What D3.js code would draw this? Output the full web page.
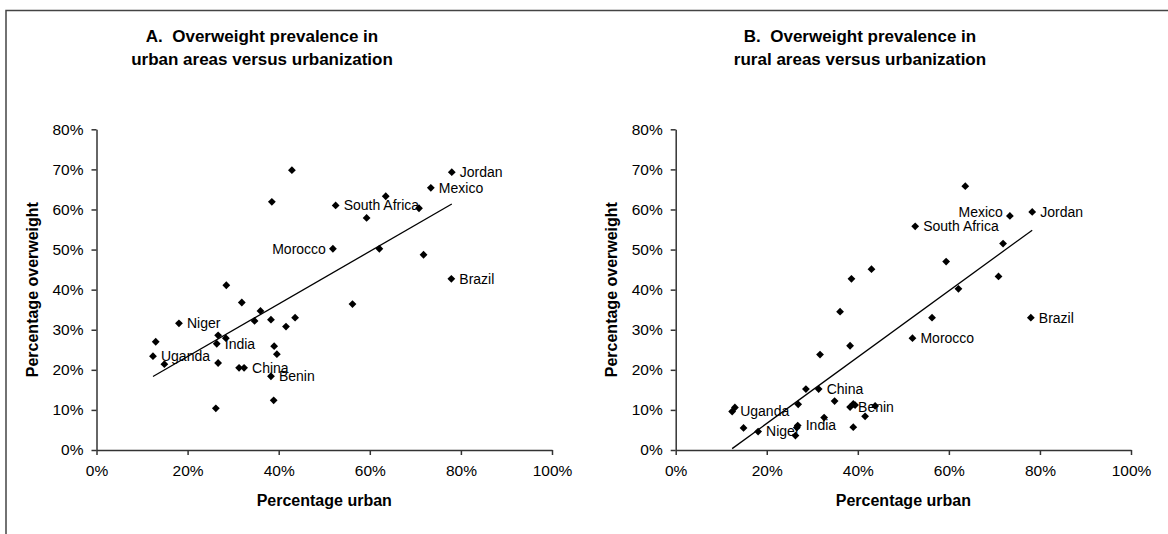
<!DOCTYPE html>
<html>
<head>
<meta charset="utf-8">
<script src="https://cdn.jsdelivr.net/npm/d3@7"></script>
<style>
  body { margin: 0; background: #fff; }
  svg text { font-family: "Liberation Sans", Arial, sans-serif; fill: #000; }
  .axis path, .axis line { stroke: #333; stroke-width: 1.5; }
  .title { white-space: pre; }
</style>
</head>
<body>
<div id="chart"></div>
<script>
// percentage urban / overweight in urban areas (panel A)
var urbanA = [42.9, 38.5, 52.5, 63.5, 70.8, 59.3, 73.4, 78.0, 51.9, 62.1, 71.8, 77.9,
              56.2, 31.9, 36.0, 34.7, 38.3, 43.6, 41.6, 39.0, 39.6, 32.4, 31.3, 38.3,
              38.9, 28.5, 18.1, 13.0, 26.7, 28.4, 26.4, 12.4, 14.9, 26.7, 26.2];
var overweightA = [69.8, 61.9, 61.0, 63.3, 60.3, 57.9, 65.4, 69.3, 50.2, 50.2, 48.7, 42.7,
                   36.4, 36.8, 34.7, 32.2, 32.5, 33.0, 30.8, 25.9, 23.9, 20.5, 20.5, 18.4,
                   12.4, 41.1, 31.6, 27.0, 28.6, 27.9, 26.5, 23.4, 21.4, 21.7, 10.4];
var namesA = ["", "", "South Africa", "", "", "", "Mexico", "Jordan", "Morocco", "", "", "Brazil",
              "", "", "", "", "", "", "", "", "", "China", "", "Benin",
              "", "", "Niger", "", "", "", "India", "Uganda", "", "", ""];
// labels drawn on the left of their point, with a small vertical nudge
var leftLabelsA = { "Morocco": 0 };

// percentage urban / overweight in rural areas (panel B)
var urbanB = [63.6, 73.4, 78.3, 52.6, 71.9, 59.4, 43.0, 38.6, 70.9, 62.1, 56.3, 78.0,
              52.0, 38.3, 36.1, 39.0, 38.3, 43.8, 41.6, 39.0, 31.7, 28.6, 31.4, 34.9,
              26.9, 39.4, 32.6, 26.8, 26.6, 26.3, 18.1, 14.9, 12.4, 13.0];
var overweightB = [65.8, 58.4, 59.4, 55.8, 51.5, 47.0, 45.1, 42.7, 43.3, 40.2, 33.0, 33.0,
                   27.9, 26.0, 34.5, 11.5, 10.7, 11.0, 8.4, 5.7, 23.8, 15.2, 15.2, 12.2,
                   11.4, 11.2, 8.1, 6.1, 5.6, 3.6, 4.6, 5.5, 9.6, 10.6];
var namesB = ["", "Mexico", "Jordan", "South Africa", "", "", "", "", "", "", "", "Brazil",
              "Morocco", "", "", "", "Benin", "", "", "", "", "", "China", "",
              "", "", "", "India", "", "", "Niger", "", "Uganda", ""];
var leftLabelsB = { "Mexico": -4 };

var xTicks = [0, 20, 40, 60, 80, 100];
var yTicks = [0, 10, 20, 30, 40, 50, 60, 70, 80];

var titleA = ["A.  Overweight prevalence in", "urban areas versus urbanization"];
var titleB = ["B.  Overweight prevalence in", "rural areas versus urbanization"];

var width = 1168, height = 534;

var svg = d3.select("#chart").append("svg")
    .attr("width", width)
    .attr("height", height);

// outer frame (only top and left edges are visible)
svg.append("path")
    .attr("d", "M6," + height + "V10.5H" + width)
    .attr("fill", "none")
    .attr("stroke", "#444")
    .attr("stroke-width", 1.5);

function diamond(r) {
  return "M0," + (-r) + "L" + r + ",0L0," + r + "L" + (-r) + ",0Z";
}

function drawPanel(opt) {
  var x = d3.scaleLinear().domain([0, 100]).range([opt.left, opt.right]);
  var y = d3.scaleLinear().domain([0, 80]).range([450, 129.3]);

  var pts = opt.xs.map(function (v, i) {
    return { x: v, y: opt.ys[i], name: opt.names[i] };
  });

  // axes
  svg.append("g")
      .attr("class", "axis")
      .attr("transform", "translate(0," + y(0) + ")")
      .call(d3.axisBottom(x).tickValues(xTicks).tickSize(5).tickSizeOuter(0)
              .tickPadding(10).tickFormat(function (d) { return d + "%"; }))
      .call(function (g) { g.selectAll("text").attr("font-size", 15.5); });

  svg.append("g")
      .attr("class", "axis")
      .attr("transform", "translate(" + x(0) + ",0)")
      .call(d3.axisLeft(y).tickValues(yTicks).tickSize(5).tickSizeOuter(0)
              .tickPadding(8).tickFormat(function (d) { return d + "%"; }))
      .call(function (g) { g.selectAll("text").attr("font-size", 15.5); });

  // least squares trend line over the data
  var mx = d3.mean(opt.xs), my = d3.mean(opt.ys);
  var sxy = d3.sum(pts, function (p) { return (p.x - mx) * (p.y - my); });
  var sxx = d3.sum(pts, function (p) { return (p.x - mx) * (p.x - mx); });
  var slope = sxy / sxx, icpt = my - slope * mx;
  var line = d3.line()
      .x(function (d) { return x(d); })
      .y(function (d) { return y(icpt + slope * d); });
  svg.append("path")
      .datum(d3.extent(opt.xs))
      .attr("d", line)
      .attr("fill", "none")
      .attr("stroke", "#000")
      .attr("stroke-width", 1.3);

  // points
  svg.append("g").selectAll("path")
      .data(pts)
      .join("path")
      .attr("d", diamond(3.9))
      .attr("transform", function (d) { return "translate(" + x(d.x) + "," + y(d.y) + ")"; })
      .attr("fill", "#000");

  // country labels
  var isLeft = function (d) { return d.name in opt.leftLabels; };
  svg.append("g").selectAll("text")
      .data(pts.filter(function (d) { return d.name; }))
      .join("text")
      .attr("x", function (d) { return isLeft(d) ? x(d.x) - 7 : x(d.x) + 8; })
      .attr("y", function (d) { return y(d.y) + (isLeft(d) ? opt.leftLabels[d.name] : 0); })
      .attr("dy", "0.35em")
      .attr("text-anchor", function (d) { return isLeft(d) ? "end" : "start"; })
      .attr("font-size", 14)
      .text(function (d) { return d.name; });

  // titles
  var t = svg.append("text")
      .attr("class", "title")
      .attr("text-anchor", "middle")
      .attr("font-size", 17)
      .attr("font-weight", "bold");
  t.selectAll("tspan")
      .data(opt.title)
      .join("tspan")
      .attr("x", opt.titleX)
      .attr("y", function (d, i) { return 42 + i * 22.5; })
      .text(function (d) { return d; });

  svg.append("text")
      .attr("x", (opt.left + opt.right) / 2)
      .attr("y", 506)
      .attr("text-anchor", "middle")
      .attr("font-size", 16)
      .attr("font-weight", "bold")
      .text("Percentage urban");

  svg.append("text")
      .attr("transform", "translate(" + (opt.left - 59) + "," + ((y(0) + y(80)) / 2) + ") rotate(-90)")
      .attr("text-anchor", "middle")
      .attr("font-size", 16)
      .attr("font-weight", "bold")
      .text("Percentage overweight");
}

drawPanel({ left: 96.5, right: 552, xs: urbanA, ys: overweightA, names: namesA,
            leftLabels: leftLabelsA, title: titleA, titleX: 262 });
drawPanel({ left: 675.7, right: 1131, xs: urbanB, ys: overweightB, names: namesB,
            leftLabels: leftLabelsB, title: titleB, titleX: 860 });
</script>
</body>
</html>
